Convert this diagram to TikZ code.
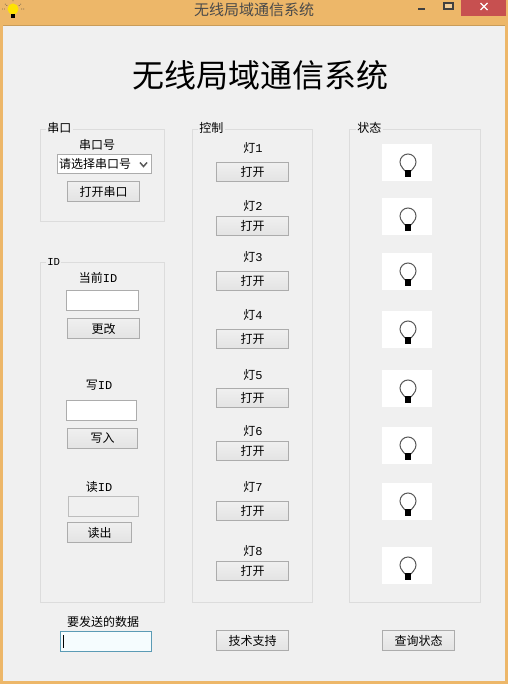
\documentclass[tikz,border=0pt]{standalone}
\usepackage{fontspec}
\setmainfont{Noto Sans CJK SC}
\newfontfamily\latfont{Liberation Mono}
\definecolor{frameC}{HTML}{EDB769}
\definecolor{clientC}{HTML}{F0F0F0}
\definecolor{closeC}{HTML}{C75050}
\definecolor{groupC}{HTML}{DCDCDC}
\definecolor{btnC}{HTML}{ACACAC}
\definecolor{titleC}{HTML}{4A4A4A}
\definecolor{focusC}{HTML}{5B9BB5}
\tikzset{
  x=0.75pt,y=-0.75pt,
  every node/.style={inner sep=0pt,outer sep=0pt,font=\fontsize{9pt}{10pt}\selectfont},
  groupbox/.style={draw=groupC,line width=0.6pt},
  grouplabel/.style={fill=clientC,anchor=west,inner xsep=1pt},
  pushbtn/.style={draw=btnC,line width=0.75pt,top color=white!94!black,bottom color=white!89!black},
  editbox/.style={draw=btnC,line width=0.75pt,fill=white},
  disabledbox/.style={draw=btnC!80,line width=0.75pt,fill=clientC},
  focusbox/.style={draw=focusC,line width=0.75pt,fill=cyan!4!white},
  bulbbox/.style={fill=white},
}
\newcommand\uibox[7]{\node[#1,minimum width={(#5-#3-1)*0.75pt},minimum height={(#6-#4-1)*0.75pt}] (#2) at ({(#3+#5)/2},{(#4+#6)/2}) {#7};}
\newcommand\lightrow[6]{%
  \node (lbl#1) at (253,#2) {灯{\latfont #1}};
  \uibox{pushbtn}{btn#1}{216}{#3}{289}{#4}{打开}
  \node[bulbbox,minimum width=37.5pt,minimum height={(#6-#5)*0.75pt}] (bulb#1) at (407,{(#5+#6)/2}) {};
  \draw[line width=0.75pt,draw=black!65] (408,#5+18) circle[radius=8];
  \fill[white] (403,#5+23) rectangle (413,#5+27);
  \draw[line width=0.75pt,draw=black!65] (402.2,#5+23.6) -- (405,#5+27) (413.8,#5+23.6) -- (411,#5+27);
  \fill[black] (405,#5+26) rectangle (411,#5+33);
}
\begin{document}
\begin{tikzpicture}
\useasboundingbox (0,0) rectangle (508,684);
\fill[frameC] (0,0) rectangle (508,684);
\fill[clientC] (3,26) rectangle (505,681);
\draw[frameC!85!black,line width=0.5pt] (3,25.5) -- (505,25.5);
% title bar
\node[text=titleC,font=\fontsize{11.25pt}{12pt}\selectfont] (wintitle) at (254,10) {无线局域通信系统};
\fill[closeC] (461,0) rectangle (506,16);
\draw[white,line width=1pt] (480.5,3) -- (487.5,10) (487.5,3) -- (480.5,10);
\draw[black!75,line width=1.2pt] (418,9) -- (425,9);
\draw[black!75,line width=0.8pt,fill=frameC!70!white] (444,3) rectangle (453,9);
\draw[black!75,line width=1.2pt] (444,3) -- (453,3);
% app icon
\fill[yellow!85!orange] (13,9) circle[radius=5.5];
\fill[yellow!85!orange] (9.5,11) -- (16.5,11) -- (15,15) -- (11,15) -- cycle;
\fill[black] (11,14.5) rectangle (15,18);
\draw[black!75,line width=0.5pt,densely dotted] (5,4) -- (7.5,6) (21,4) -- (18.5,6) (13,0.5) -- (13,2.5) (2,9) -- (6,9) (24,9) -- (20,9);
% main title
\node[font=\fontsize{24pt}{26pt}\selectfont,text=black] (maintitle) at (260,75) {无线局域通信系统};
% groups
\draw[groupbox] (40,129) rectangle (164,221);
\draw[groupbox] (40,262) rectangle (164,602);
\draw[groupbox] (192,129) rectangle (312,602);
\draw[groupbox] (349,129) rectangle (480,602);
\node[grouplabel] (gserial) at (46,128) {串口};
\node[grouplabel] (gid) at (46,262) {\fontsize{8pt}{9pt}\selectfont\latfont ID};
\node[grouplabel] (gctrl) at (198,128) {控制};
\node[grouplabel] (gstate) at (356,128) {状态};
% serial
\node (lport) at (97,145) {串口号};
\uibox{editbox}{combo}{57}{154}{152}{174}{}
\node[anchor=west] (combotext) at (59,164) {请选择串口号};
\draw[black!65,line width=1.1pt] (140,162.5) -- (143.5,166.5) -- (147,162.5);
\uibox{pushbtn}{openport}{67}{181}{140}{202}{打开串口}
% ID
\node (lcur) at (98,278) {当前{\latfont ID}};
\uibox{editbox}{curid}{66}{290}{139}{311}{}
\uibox{pushbtn}{change}{67}{318}{140}{339}{更改}
\node (lwrite) at (99,385) {写{\latfont ID}};
\uibox{editbox}{writeid}{66}{400}{137}{421}{}
\uibox{pushbtn}{writebtn}{67}{428}{138}{449}{写入}
\node (lread) at (99,487) {读{\latfont ID}};
\uibox{disabledbox}{readid}{68}{496}{139}{517}{}
\uibox{pushbtn}{readbtn}{67}{522}{132}{543}{读出}
% lights
\lightrow{1}{148}{162}{182}{144}{181}
\lightrow{2}{206}{216}{236}{198}{235}
\lightrow{3}{257}{271}{291}{253}{290}
\lightrow{4}{315}{329}{349}{311}{348}
\lightrow{5}{375}{388}{408}{370}{407}
\lightrow{6}{431}{441}{461}{427}{464}
\lightrow{7}{487}{501}{521}{483}{520}
\lightrow{8}{551}{561}{581}{547}{584}
% bottom
\node (lsend) at (103,622) {要发送的数据};
\uibox{focusbox}{sendbox}{60}{631}{152}{652}{}
\draw[black,line width=0.6pt] (63.5,635) -- (63.5,648);
\uibox{pushbtn}{support}{216}{630}{289}{651}{技术支持}
\uibox{pushbtn}{query}{382}{630}{455}{651}{查询状态}
\end{tikzpicture}
\end{document}
